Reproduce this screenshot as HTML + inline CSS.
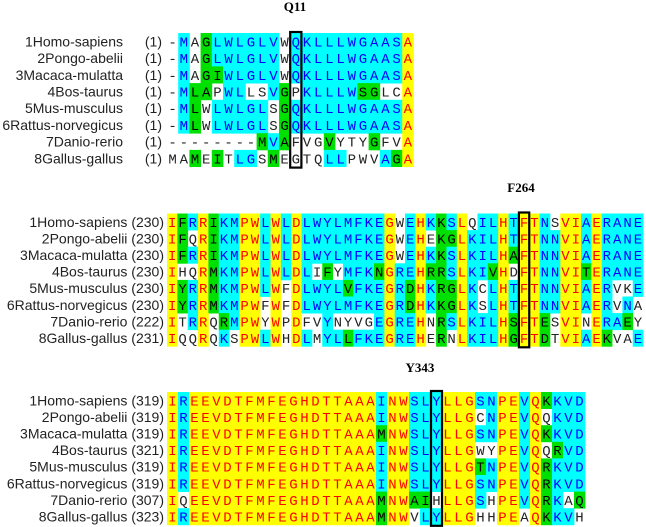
<!DOCTYPE html>
<html><head><meta charset="utf-8"><style>
html,body{margin:0;padding:0;background:#fff;}
svg{display:block;}
</style></head><body>
<svg id="chart" width="646" height="527" viewBox="0 0 646 527" xmlns="http://www.w3.org/2000/svg"></svg>
<script>
const names = ["1Homo-sapiens","2Pongo-abelii","3Macaca-mulatta","4Bos-taurus","5Mus-musculus","6Rattus-norvegicus","7Danio-rerio","8Gallus-gallus"];
const block1Starts = ["1","1","1","1","1","1","1","1"];
const block1Seqs = [
"-MAGLWLGLVWQKLLLWGAASA",
"-MAGLWLGLVWQKLLLWGAASA",
"-MAGIWLGLVWQKLLLWGAASA",
"-MLAPWLLSVGPKLLLWSGLCA",
"-MLWLWLGLSGQKLLLWGAASA",
"-MLWLWLGLSGQKLLLWGAASA",
"--------MVAFVGVYTYGFVA",
"MAMEITLGSMEGTQLLPWVAGA"];
const block2Starts = ["230","230","230","230","230","230","222","231"];
const block2Seqs = [
"IFRRIKMPWLWLDLWYLMFKEGWEHKKSLQILHTFTNSVIAERANE",
"IFQRIKMPWLWLDLWYLMFKEGWEHEKGLKILHTFTNNVIAERANE",
"IFRRIKMPWLWLDLWYLMFKEGWEHKKSLKILHAFTNNVIAERANE",
"IHQRMKMPWLWLDLIFYMFKNGREHRRSLKIVHDFTNNVITERANE",
"IYRRMKMPWLWFDLWYLVFKEGRDHKRGLKCLHTFTNNVIAERVKE",
"IYRRMKMPWFWFDLWYLMFKEGRDHKKGLKSLHTFTNNVIAERVNA",
"ITRRQRMPWYWPDFVYNYVGEGREHNRSLKILHSFTESVINERAEY",
"IQQRQKSPWLWHDLMYLLFKEGREHERNLKILHGFTDTVIAEKVAE"];
const block3Starts = ["319","319","319","321","319","319","307","323"];
const block3Seqs = [
"IREEVDTFMFEGHDTTAAAINWSLYLLGSNPEVQKKVD",
"IREEVDTFMFEGHDTTAAAINWSLYLLGCNPEVQQKVD",
"IREEVDTFMFEGHDTTAAAMNWSLYLLGSNPEVQKKVD",
"IREEVDTFMFEGHDTTAAAINWSLYLLGWYPEVQQRVD",
"IREEVDTFMFEGHDTTAAAINWSLYLLGTNPEVQRKVD",
"IREEVDTFMFEGHDTTAAAINWSLYLLGSNPEVQRKVD",
"IQEEVDTFMFEGHDTTAAAMNWAIHLLGSHPEVQRKAQ",
"IREEVDTFMFEGHDTTAAAMNWVLYLLGHHPEAQKKVH"];
const markerLabels = ["Q11","F264","Y343"];
const markerColumns = [11, 34, 24];

const NS="http://www.w3.org/2000/svg";
const svg=document.getElementById('chart');
const groups=["ILVM","FYW","KRH","DENQ","STAG"];
function grp(c){for(let i=0;i<groups.length;i++) if(groups[i].includes(c)) return i; return -1;}
const COL={y:["#ffff00","#ff0000"],c:["#00ffff","#0000ff"],g:["#00e000","#000000"],w:["#ffffff","#222222"],v:["#ffffff","#008000"]};
function classify(seqs){
  const L=seqs[0].length; const out=seqs.map(()=>[]);
  for(let j=0;j<L;j++){
    const col=seqs.map(s=>s[j]); const cnt={};
    col.forEach(ch=>{if(ch!=='-') cnt[ch]=(cnt[ch]||0)+1;});
    const keys=Object.keys(cnt).sort((a,b)=>cnt[b]-cnt[a]);
    const allSame = keys.length===1 && cnt[keys[0]]===seqs.length;
    const top=keys[0], uniq = keys.length<2 || cnt[keys[0]]>cnt[keys[1]];
    const gcount=[0,0,0,0,0]; col.forEach(ch=>{const g=grp(ch); if(g>=0) gcount[g]++;});
    col.forEach((ch,i)=>{
      let k='w';
      if(ch==='-') k='w';
      else if(allSame) k='y';
      else if(top && uniq && cnt[top]>=4){
        if(ch===top) k='c';
        else if(grp(ch)>=0 && grp(ch)===grp(top)) k='g';
        else k='w';
      } else {
        const g=grp(ch); if(g>=0 && gcount[g]>=4) k='g'; else k='w';
      }
      out[i].push(k);
    });
  }
  return out;
}
function el(tag,attrs,parent){const e=document.createElementNS(NS,tag);for(const a in attrs)e.setAttribute(a,attrs[a]);(parent||svg).appendChild(e);return e;}

const blocks=[
 {seqs:block1Seqs,starts:block1Starts,x0:167,cw:11.2,y0:33,rh:16.7,sep:true},
 {seqs:block2Seqs,starts:block2Starts,x0:167,cw:10.35,y0:213.5,rh:16.6,sep:false},
 {seqs:block3Seqs,starts:block3Starts,x0:167,cw:11,y0:392,rh:16.6,sep:false}];
const labelPos=[[295,11],[521,192],[420,372]];

blocks.forEach((b,bi)=>{
  const g=el('g',{});
  
  
  const cls=classify(b.seqs);
  b.seqs.forEach((s,i)=>{
    const y=b.y0+i*b.rh, cy=y+b.rh/2+5;
    if(b.sep){
      const t=el('text',{x:123,y:cy,'text-anchor':'end','font-family':'Liberation Sans, sans-serif','font-size':'14',fill:'#222'},g);
      t.textContent=names[i];
      
      
      const p=el('text',{x:162,y:cy,'text-anchor':'end','font-family':'Liberation Sans, sans-serif','font-size':'14',fill:'#222'},g);
      p.textContent='('+b.starts[i]+')';
      
      
    } else {
      const t=el('text',{x:164,y:cy,'text-anchor':'end','font-family':'Liberation Sans, sans-serif','font-size':'14',fill:'#222'},g);
      t.textContent=names[i]+' ('+b.starts[i]+')';
      
      
    }
    for(let j=0;j<s.length;j++){
      const x=b.x0+j*b.cw; const c=COL[cls[i][j]];
      if(c[0]!=="#ffffff"){
        const r=el('rect',{x:x.toFixed(2),y:y.toFixed(2),width:(b.cw+0.4).toFixed(2),height:(b.rh+0.4).toFixed(2),fill:c[0]},g);
        
        
      }
      const t=el('text',{x:(x+b.cw/2).toFixed(2),y:cy,'text-anchor':'middle','font-family':'Liberation Mono, monospace','font-size':'14',fill:c[1]},g);
      t.textContent=s[j];
      
      
    }
  });
  const col=markerColumns[bi];
  const bx=el('rect',{x:(b.x0+col*b.cw).toFixed(2),y:b.y0-1,width:b.cw.toFixed(2),height:(b.rh*8+2).toFixed(2),fill:'none',stroke:'#000','stroke-width':'2.2'},g);
  
  
  const lb=el('text',{x:labelPos[bi][0],y:labelPos[bi][1],'text-anchor':'middle','font-family':'Liberation Serif, serif','font-weight':'bold','font-size':'13',fill:'#000'},g);
  lb.textContent=markerLabels[bi];
  
  
});
</script>
</body></html>
